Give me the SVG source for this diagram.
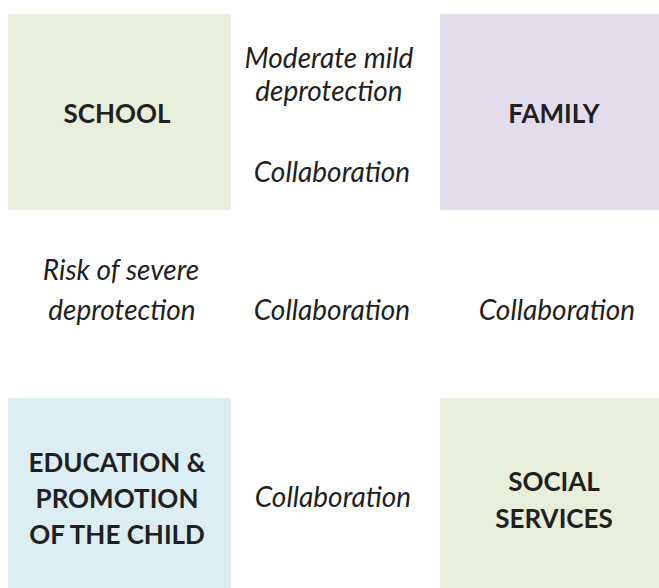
<svg xmlns="http://www.w3.org/2000/svg" width="659" height="588" viewBox="0 0 659 588">
  <style>
    .box-text { font-family: Lato, "Open Sans", "Liberation Sans", sans-serif; font-weight: bold; font-size: 26px; fill: #231f20; text-anchor: middle; }
    .rel-text { font-family: Lato, "Open Sans", "Liberation Sans", sans-serif; font-style: italic; font-size: 28px; fill: #231f20; text-anchor: middle; }
  </style>
  <rect width="659" height="588" fill="#ffffff"/>

  <g id="school">
    <rect x="8" y="14" width="223" height="196" fill="#e8f0dc"/>
    <text class="box-text" x="117" y="123">SCHOOL</text>
  </g>

  <g id="family">
    <rect x="440" y="14" width="219" height="196" fill="#e3dcec"/>
    <text class="box-text" x="554" y="123">FAMILY</text>
  </g>

  <g id="education">
    <rect x="8" y="398" width="223" height="190" fill="#daeef4"/>
    <text class="box-text" x="117" y="472">EDUCATION &amp;</text>
    <text class="box-text" x="117" y="508">PROMOTION</text>
    <text class="box-text" x="117" y="544">OF THE CHILD</text>
  </g>

  <g id="social-services">
    <rect x="440" y="398" width="219" height="190" fill="#e8f0dc"/>
    <text class="box-text" x="554" y="491">SOCIAL</text>
    <text class="box-text" x="554" y="528">SERVICES</text>
  </g>

  <g id="connectors">
    <text class="rel-text" x="329" y="68">Moderate mild</text>
    <text class="rel-text" x="329" y="101">deprotection</text>
    <text class="rel-text" x="332" y="182">Collaboration</text>
    <text class="rel-text" x="121" y="280">Risk of severe</text>
    <text class="rel-text" x="122" y="320">deprotection</text>
    <text class="rel-text" x="332" y="320">Collaboration</text>
    <text class="rel-text" x="557" y="320">Collaboration</text>
    <text class="rel-text" x="333" y="507">Collaboration</text>
  </g>
</svg>
